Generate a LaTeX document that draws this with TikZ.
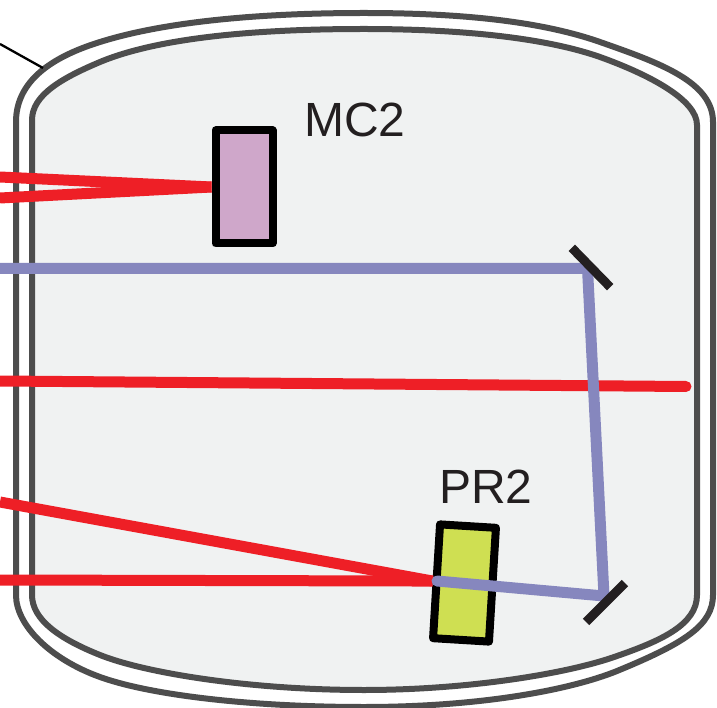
\documentclass[tikz,border=0pt]{standalone}
\usepackage{fontspec}
\setmainfont{Liberation Sans}
\definecolor{wall}{HTML}{4D4D4D}
\definecolor{vac}{HTML}{F0F2F2}
\definecolor{redbeam}{HTML}{EE1F26}
\definecolor{bluebeam}{HTML}{8687BE}
\definecolor{mcfill}{HTML}{CFA7CA}
\definecolor{prfill}{HTML}{CFDF52}
\definecolor{ink}{HTML}{231F20}
\begin{document}
\begin{tikzpicture}[x=1pt,y=-1pt]
\tikzstyle{optic}=[draw=black,line width=8pt,line join=round,inner sep=0pt]
\tikzstyle{mirror}=[fill=ink,inner sep=0pt,outer sep=0pt,minimum width=55pt,minimum height=9pt]
\tikzstyle{wallline}=[draw=wall,line width=6pt]
\tikzstyle{redline}=[draw=redbeam,line width=11pt]
\tikzstyle{blueline}=[draw=bluebeam,line width=11pt]
\tikzstyle{oplabel}=[text=ink,font=\fontsize{48}{48}\selectfont,inner sep=0pt,anchor=base]
\useasboundingbox (0,0) rectangle (717,708);

% vessel
\path[wallline,fill=white] (16,122) .. controls (16,85) and (45,59) .. (100,42) .. controls (170,20) and (270,13) .. (364,13)
  .. controls (460,13) and (540,21) .. (600,42) .. controls (660,63) and (713,82) .. (713,122)
  -- (713,595) .. controls (713,625) and (685,643) .. (617,671) .. controls (570,690) and (480,707) .. (364,707)
  .. controls (250,707) and (150,695) .. (100,677) .. controls (50,659) and (16,625) .. (16,595) -- cycle;
\path[wallline,fill=vac] (32,120) .. controls (32,95) and (62,78) .. (100,62) .. controls (160,37) and (260,29) .. (364,29)
  .. controls (450,29) and (540,36) .. (600,57) .. controls (650,75) and (697,100) .. (697,125)
  -- (697,595) .. controls (697,625) and (660,641) .. (617,656) .. controls (570,673) and (470,690) .. (364,690)
  .. controls (250,690) and (145,673) .. (100,655) .. controls (60,639) and (32,620) .. (32,595) -- cycle;

\coordinate (v1) at (0,44);
\coordinate (v2) at (43,68);
\draw[line width=2.3pt] (v1) -- (v2);

\node[optic,fill=mcfill,minimum width=57pt,minimum height=113pt] at (244,187) (mc2) {};
\node[optic,fill=prfill,minimum width=56pt,minimum height=114pt,rotate=-3.5] at (464.5,583) (pr2) {};

\coordinate (r1) at (0,177);
\coordinate (r2) at (0,198);
\coordinate (r3) at (0,381);
\coordinate (r4) at (686,386.5);
\coordinate (r5) at (0,502);
\coordinate (r6) at (0,580);

\draw[redline] (r1) -- (mc2.west);
\draw[redline] (r2) -- (mc2.west);
\draw[redline,line cap=round] (r3) -- (r4);
\draw[redline] (r5) -- (pr2.west);
\draw[redline] (r6) -- (pr2.west);

\coordinate (b1) at (0,268.5);
\coordinate (b2) at (587.5,268.5);
\coordinate (b3) at (604,596);
\coordinate (b4) at (437,581);
\draw[blueline,line cap=round] (b1) -- (b2) -- (b3) -- (b4);

\node[mirror,rotate=-45.7] at (591,267.5) (m1) {};
\node[mirror,rotate=45] at (605.5,602.5) (m2) {};

\node[oplabel] at (355,137) (mc2label) {MC2};
\node[oplabel] at (486,503) (pr2label) {PR2};
\end{tikzpicture}
\end{document}
